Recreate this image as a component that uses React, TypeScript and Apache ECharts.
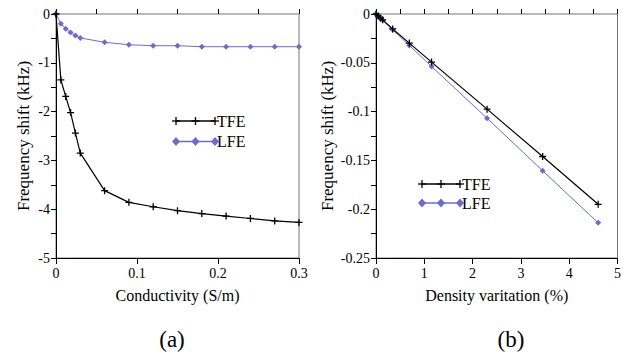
import React, { useEffect, useRef } from "react";
import * as echarts from "echarts";

const condX = [0, 0.006, 0.012, 0.018, 0.024, 0.03, 0.06, 0.09, 0.12, 0.15, 0.18, 0.21, 0.24, 0.27, 0.3];
const condTFE = [0, -1.35, -1.69, -2.02, -2.44, -2.85, -3.62, -3.86, -3.95, -4.03, -4.09, -4.14, -4.19, -4.24, -4.27];
const condLFE = [0, -0.2, -0.3, -0.38, -0.44, -0.49, -0.58, -0.63, -0.65, -0.65, -0.67, -0.67, -0.67, -0.67, -0.67];

const densX = [0, 0.046, 0.092, 0.138, 0.345, 0.69, 1.15, 2.3, 3.45, 4.6];
const densTFE = [0, -0.002, -0.004, -0.006, -0.0153, -0.0298, -0.0493, -0.0975, -0.146, -0.195];
const densLFE = [0, -0.002, -0.0043, -0.0065, -0.0161, -0.0322, -0.0538, -0.1068, -0.1606, -0.214];

const seriesNames = ["TFE", "LFE"];
const panelLabels = ["(a)", "(b)"];
const xTitles = ["Conductivity (S/m)", "Density varitation (%)"];
const yTitle = "Frequency shift (kHz)";

const FONT = "Liberation Serif";
const BLUE = "#6b6bd0";
const PLUS = "path://M0,-5 L0,5 M-5,0 L5,0";

function zip(xs: number[], ys: number[]) {
  return xs.map((x, i) => [x, ys[i]]);
}

function fmt(v: number) {
  return String(parseFloat(v.toFixed(4)));
}

export default function App() {
  const ref = useRef<HTMLDivElement>(null);
  useEffect(() => {
    if (!ref.current) return;
    const chart = echarts.init(ref.current, null, { renderer: "svg" });

    const grids = [
      { left: 56, top: 14, width: 243, height: 244 },
      { left: 376, top: 14, width: 243, height: 244 },
    ].map((g) => ({ ...g, show: true, borderColor: "#777", borderWidth: 1, backgroundColor: "transparent" }));

    const labelStyle = { color: "#000", fontFamily: FONT, fontSize: 14 };

    const mainX = (gi: number, max: number, interval: number, name: string) => ({
      type: "value",
      gridIndex: gi,
      min: 0,
      max,
      interval,
      name,
      nameLocation: "middle",
      nameGap: 29,
      nameTextStyle: { color: "#000", fontFamily: FONT, fontSize: 16 },
      axisLine: { show: true, onZero: false, lineStyle: { color: "#000", width: 1 } },
      axisTick: { show: true, inside: false, length: 6, lineStyle: { color: "#000" } },
      axisLabel: { ...labelStyle, margin: 8, formatter: (v: number) => fmt(v) },
      splitLine: { show: false },
    });
    const minorX = (gi: number, max: number, interval: number) => ({
      type: "value",
      gridIndex: gi,
      position: "bottom",
      min: 0,
      max,
      interval,
      axisLine: { show: false },
      axisTick: { show: true, inside: true, length: 5, lineStyle: { color: "#000" } },
      axisLabel: { show: false },
      splitLine: { show: false },
    });
    const mainY = (gi: number, min: number, interval: number, labelStep: number) => ({
      type: "value",
      gridIndex: gi,
      min,
      max: 0,
      interval,
      name: yTitle,
      nameLocation: "middle",
      nameGap: gi === 0 ? 24 : 40,
      nameTextStyle: { color: "#000", fontFamily: FONT, fontSize: 17 },
      axisLine: { show: true, onZero: false, lineStyle: { color: "#000", width: 1 } },
      axisTick: { show: true, inside: false, length: 5, lineStyle: { color: "#000" } },
      axisLabel: {
        ...labelStyle,
        margin: 6,
        formatter: (v: number) => {
          const k = v / labelStep;
          return Math.abs(k - Math.round(k)) < 1e-6 ? fmt(v) : "";
        },
      },
      splitLine: { show: false },
    });

    const mkSeries = (gi: number, xs: number[], tfe: number[], lfe: number[]) => [
      {
        name: seriesNames[0],
        type: "line",
        xAxisIndex: gi * 2,
        yAxisIndex: gi,
        data: zip(xs, tfe),
        symbol: PLUS,
        symbolSize: 7,
        itemStyle: { color: "none", borderColor: "#000", borderWidth: 1.3 },
        showAllSymbol: true,
        lineStyle: { color: "#000", width: 1.2 },
        z: 3,
      },
      {
        name: seriesNames[1],
        type: "line",
        xAxisIndex: gi * 2,
        yAxisIndex: gi,
        data: zip(xs, lfe),
        symbol: "diamond",
        symbolSize: 6,
        showAllSymbol: true,
        itemStyle: { color: BLUE },
        lineStyle: { color: BLUE, width: 1 },
        z: 2,
      },
    ];

    const plusG = (x: number, y: number) => [
      { type: "line", shape: { x1: x - 4, y1: y, x2: x + 4, y2: y }, style: { stroke: "#000", lineWidth: 1.3 } },
      { type: "line", shape: { x1: x, y1: y - 4, x2: x, y2: y + 4 }, style: { stroke: "#000", lineWidth: 1.3 } },
    ];
    const diamondG = (x: number, y: number) => ({
      type: "polygon",
      shape: { points: [[x, y - 4.5], [x + 4, y], [x, y + 4.5], [x - 4, y]] },
      style: { fill: BLUE },
    });
    const textG = (x: number, y: number, text: string, size: number, align = "left") => ({
      type: "text",
      x,
      y,
      style: { text, fontFamily: FONT, fontSize: size, fill: "#000", align, verticalAlign: "middle" },
    });
    const legendG = (x0: number, x1: number, y1: number, y2: number) => {
      const xm = (x0 + x1) / 2;
      return [
        { type: "line", shape: { x1: x0, y1: y1, x2: x1, y2: y1 }, style: { stroke: "#000", lineWidth: 1.3 } },
        ...plusG(x0, y1),
        ...plusG(xm, y1),
        ...plusG(x1, y1),
        textG(x1 + 2, y1, seriesNames[0], 16),
        { type: "line", shape: { x1: x0, y1: y2, x2: x1, y2: y2 }, style: { stroke: BLUE, lineWidth: 1.5 } },
        diamondG(x0, y2),
        diamondG(xm, y2),
        diamondG(x1, y2),
        textG(x1 + 2, y2, seriesNames[1], 16),
      ];
    };

    chart.setOption({
      animation: false,
      backgroundColor: "#fff",
      grid: grids,
      xAxis: [
        mainX(0, 0.3, 0.1, xTitles[0]),
        minorX(0, 0.3, 0.05),
        mainX(1, 5, 1, xTitles[1]),
        minorX(1, 5, 0.5),
      ],
      yAxis: [mainY(0, -5, 0.5, 1), mainY(1, -0.25, 0.025, 0.05)],
      series: [...mkSeries(0, condX, condTFE, condLFE), ...mkSeries(1, densX, densTFE, densLFE)],
      graphic: [
        ...legendG(176, 215, 121, 141.5),
        ...legendG(422, 460, 184, 203),
        textG(172, 339, panelLabels[0], 23, "center"),
        textG(511, 339, panelLabels[1], 23, "center"),
      ],
    });
    return () => chart.dispose();
  }, []);
  return (
    <div
      ref={ref}
      style={{ position: "fixed", left: 0, top: 0, width: 624, height: 356, background: "#fff" }}
    />
  );
}
